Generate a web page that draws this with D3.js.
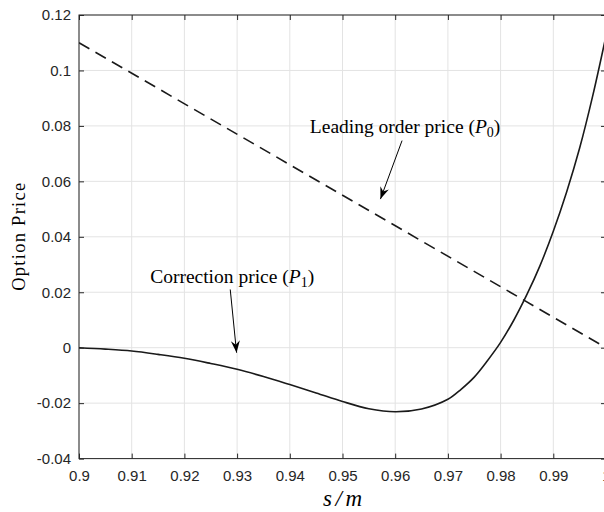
<!DOCTYPE html>
<html><head><meta charset="utf-8">
<script src="https://cdn.jsdelivr.net/npm/d3@7"></script>
<style>body{margin:0;background:#fff;overflow:hidden}</style>
</head><body><svg id="c" width="604" height="512"></svg>
<script>
// ---- data ----
const xTicks = [0.9,0.91,0.92,0.93,0.94,0.95,0.96,0.97,0.98,0.99,1.0];
const xTickLabels = ["0.9","0.91","0.92","0.93","0.94","0.95","0.96","0.97","0.98","0.99","1"];
const yTicks = [-0.04,-0.02,0,0.02,0.04,0.06,0.08,0.1,0.12];
const yTickLabels = ["-0.04","-0.02","0","0.02","0.04","0.06","0.08","0.1","0.12"];
const leadingX = [0.9, 1.0];
const leadingY = [0.11, 0.0];
const corrX = [0.900,0.905,0.910,0.915,0.920,0.925,0.930,0.935,0.940,0.945,0.950,0.955,0.960,0.965,0.970,0.9725,0.975,0.9775,0.980,0.9825,0.985,0.9875,0.990,0.9925,0.995,0.9975,1.000];
const corrY = [0.0000,-0.0005,-0.0012,-0.0024,-0.0038,-0.0057,-0.0078,-0.0104,-0.0133,-0.0163,-0.0194,-0.0220,-0.0231,-0.0221,-0.0186,-0.0150,-0.0106,-0.0047,0.0019,0.0099,0.0192,0.0297,0.0420,0.0560,0.0720,0.0910,0.1125];
const annotTexts = ["Leading order price (", "Correction price ("];
const annotSubs = ["0","1"];
const annotX = [0.9438, 0.9135];
const annotY = [0.0775, 0.0233];
const arrowFromX = [0.9613, 0.9287];
const arrowFromY = [0.0747, 0.0210];
const arrowToX = [0.9572, 0.9299];
const arrowToY = [0.0536, -0.0018];
const xLabel = "s/m";
const yLabel = "Option Price";

// ---- layout ----
const svg = d3.select("#c");
const L = 79, R = 606, T = 15, B = 458.6;
const x = d3.scaleLinear().domain([0.9, 1.0]).range([L, R]);
const y = d3.scaleLinear().domain([-0.04, 0.12]).range([B, T]);
const axisColor = "#262626";
const serif = "'Liberation Serif', 'DejaVu Serif', serif";

svg.append("rect").attr("width",604).attr("height",512).attr("fill","#fff");

// grid
const grid = svg.append("g");
grid.selectAll(".gx").data(xTicks).join("line")
  .attr("x1", d=>x(d)).attr("x2", d=>x(d)).attr("y1", T).attr("y2", B)
  .attr("stroke", "#e3e3e3").attr("stroke-width", 1);
grid.selectAll(".gy").data(yTicks).join("line")
  .attr("y1", d=>y(d)).attr("y2", d=>y(d)).attr("x1", L).attr("x2", R)
  .attr("stroke", "#e3e3e3").attr("stroke-width", 1);

// clip
svg.append("clipPath").attr("id","clip").append("rect")
  .attr("x", L).attr("y", T).attr("width", R-L).attr("height", B-T);

const plot = svg.append("g").attr("clip-path","url(#clip)");
plot.append("path").datum(leadingX.map((v,i)=>[v, leadingY[i]]))
  .attr("d", d3.line().x(d=>x(d[0])).y(d=>y(d[1])))
  .attr("fill","none").attr("stroke","#1a1a1a")
  .attr("stroke-width",1.6).attr("stroke-dasharray","12,7");
plot.append("path").datum(corrX.map((v,i)=>[v, corrY[i]]))
  .attr("d", d3.line().x(d=>x(d[0])).y(d=>y(d[1])).curve(d3.curveCatmullRom.alpha(0.5)))
  .attr("fill","none").attr("stroke","#1a1a1a").attr("stroke-width",1.6);

// axes (MATLAB box style, inward ticks)
const tickLen = 5;
const fmtX = d => xTickLabels[xTicks.indexOf(d)];
const fmtY = d => yTickLabels[yTicks.indexOf(d)];
function styleAxis(g){
  g.selectAll("path,line").attr("stroke", axisColor);
  g.selectAll("text").attr("fill", axisColor)
   .style("font-family","'Liberation Sans', Arial, sans-serif").style("font-size","15px");
}
svg.append("g").attr("transform",`translate(0,${B})`)
  .call(d3.axisBottom(x).tickValues(xTicks).tickFormat(fmtX).tickSizeInner(-tickLen).tickSizeOuter(0).tickPadding(12))
  .call(styleAxis).call(g=>g.select(".domain").remove());
svg.append("g").attr("transform",`translate(0,${T})`)
  .call(d3.axisTop(x).tickValues(xTicks).tickFormat("").tickSizeInner(-tickLen).tickSizeOuter(0))
  .call(styleAxis).call(g=>g.select(".domain").remove());
svg.append("g").attr("transform",`translate(${L},0)`)
  .call(d3.axisLeft(y).tickValues(yTicks).tickFormat(fmtY).tickSizeInner(-tickLen).tickSizeOuter(0).tickPadding(8))
  .call(styleAxis).call(g=>g.select(".domain").remove());
svg.append("g").attr("transform",`translate(${R},0)`)
  .call(d3.axisRight(y).tickValues(yTicks).tickFormat("").tickSizeInner(-tickLen).tickSizeOuter(0))
  .call(styleAxis).call(g=>g.select(".domain").remove());
svg.append("rect").attr("x",L).attr("y",T).attr("width",R-L).attr("height",B-T)
  .attr("fill","none").attr("stroke",axisColor).attr("stroke-width",1);

// labels
svg.append("text").attr("x", (L+R)/2).attr("y", 506).attr("text-anchor","middle")
  .style("font-family",serif).style("font-style","italic").style("font-size","23px")
  .attr("textLength",39).attr("lengthAdjust","spacing")
  .attr("fill","#000").text(xLabel);
svg.append("text").attr("transform",`translate(25,${(T+B)/2}) rotate(-90)`).attr("text-anchor","middle")
  .style("font-family",serif).style("font-size","18.5px")
  .attr("textLength",108).attr("lengthAdjust","spacing")
  .attr("fill","#000").text(yLabel);

// annotations
const defs = svg.append("defs");
defs.append("marker").attr("id","ah").attr("viewBox","-12 -6 14 12")
  .attr("refX",0).attr("refY",0).attr("markerWidth",14).attr("markerHeight",12)
  .attr("markerUnits","userSpaceOnUse").attr("orient","auto")
  .append("path").attr("d","M0,0 L-12,-4.5 L-8,0 L-12,4.5 Z").attr("fill","#000");

annotTexts.forEach((t,i)=>{
  const tx = svg.append("text").attr("x", x(annotX[i])).attr("y", y(annotY[i]))
    .style("font-family",serif).style("font-size","19.5px").attr("fill","#000");
  tx.append("tspan").text(t);
  tx.append("tspan").style("font-style","italic").text("P");
  tx.append("tspan").attr("dy",4).style("font-size","14px").text(annotSubs[i]);
  tx.append("tspan").attr("dy",-4).text(")");
  svg.append("line").attr("x1", x(arrowFromX[i])).attr("y1", y(arrowFromY[i]))
    .attr("x2", x(arrowToX[i])).attr("y2", y(arrowToY[i]))
    .attr("stroke","#000").attr("stroke-width",1).attr("marker-end","url(#ah)");
});
</script></body></html>
